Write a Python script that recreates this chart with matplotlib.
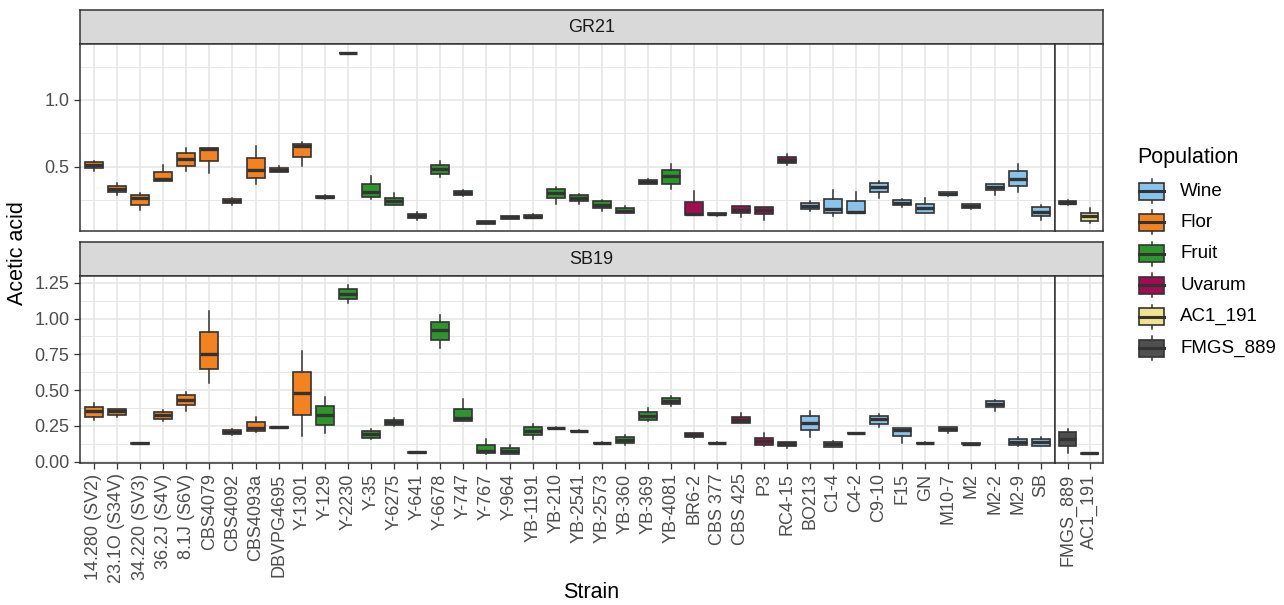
import matplotlib
matplotlib.use("Agg")
import matplotlib.pyplot as plt
from matplotlib.patches import Rectangle

plt.rcParams["font.family"] = ["Liberation Sans", "DejaVu Sans"]

# strains in plot order (last two are the control panel)
strains = [
    "14.280 (SV2)", "23.1O (S34V)", "34.220 (SV3)", "36.2J (S4V)", "8.1J (S6V)",
    "CBS4079", "CBS4092", "CBS4093a", "DBVPG4695", "Y-1301",
    "Y-129", "Y-2230", "Y-35", "Y-6275", "Y-641", "Y-6678", "Y-747", "Y-767",
    "Y-964", "YB-1191", "YB-210", "YB-2541", "YB-2573", "YB-360", "YB-369",
    "YB-4081", "BR6-2", "CBS 377", "CBS 425", "P3", "RC4-15", "BO213", "C1-4",
    "C4-2", "C9-10", "F15", "GN", "M10-7", "M2", "M2-2", "M2-9", "SB",
    "FMGS_889", "AC1_191",
]
population = (["Flor"] * 10 + ["Fruit"] * 16 + ["Uvarum"] * 5 + ["Wine"] * 11
              + ["FMGS_889", "AC1_191"])
n_main = 42

pop_order = ["Wine", "Flor", "Fruit", "Uvarum", "AC1_191", "FMGS_889"]
pop_colors = {
    "Wine": "#88C3EC",
    "Flor": "#F4821F",
    "Fruit": "#2B972B",
    "Uvarum": "#A10D50",
    "AC1_191": "#F1E38E",
    "FMGS_889": "#4F4F4F",
}

# GR21 box statistics
gr21_lo = [0.468, 0.291, 0.182, 0.396, 0.468, 0.458, 0.219, 0.371, 0.460, 0.510,
           0.263, 1.349, 0.261, 0.214, 0.107, 0.428, 0.286, 0.075, 0.110, 0.117,
           0.226, 0.224, 0.174, 0.154, 0.371, 0.336, 0.144, 0.137, 0.124, 0.107,
           0.513, 0.169, 0.134, 0.154, 0.269, 0.204, 0.154, 0.286, 0.189, 0.291,
           0.311, 0.107, 0.219, 0.082]
gr21_q1 = [0.493, 0.311, 0.219, 0.396, 0.510, 0.542, 0.231, 0.420, 0.465, 0.575,
           0.266, 1.349, 0.276, 0.219, 0.117, 0.450, 0.291, 0.077, 0.112, 0.117,
           0.266, 0.246, 0.192, 0.154, 0.371, 0.371, 0.144, 0.139, 0.154, 0.152,
           0.527, 0.184, 0.154, 0.159, 0.313, 0.214, 0.154, 0.291, 0.194, 0.328,
           0.356, 0.137, 0.221, 0.100]
gr21_med = [0.515, 0.336, 0.269, 0.413, 0.560, 0.634, 0.249, 0.480, 0.480, 0.657,
            0.276, 1.351, 0.311, 0.249, 0.134, 0.485, 0.306, 0.087, 0.124, 0.129,
            0.306, 0.266, 0.217, 0.174, 0.386, 0.430, 0.149, 0.147, 0.182, 0.182,
            0.555, 0.207, 0.189, 0.167, 0.353, 0.234, 0.194, 0.301, 0.207, 0.351,
            0.408, 0.167, 0.234, 0.137]
gr21_q3 = [0.535, 0.356, 0.291, 0.460, 0.605, 0.644, 0.261, 0.567, 0.495, 0.674,
           0.286, 1.353, 0.371, 0.271, 0.149, 0.517, 0.319, 0.097, 0.134, 0.139,
           0.338, 0.291, 0.244, 0.194, 0.401, 0.480, 0.236, 0.157, 0.206, 0.202,
           0.577, 0.229, 0.259, 0.249, 0.383, 0.254, 0.221, 0.311, 0.221, 0.371,
           0.470, 0.199, 0.249, 0.159]
gr21_hi = [0.547, 0.381, 0.306, 0.517, 0.642, 0.644, 0.269, 0.654, 0.505, 0.684,
           0.289, 1.353, 0.435, 0.304, 0.167, 0.547, 0.331, 0.100, 0.137, 0.147,
           0.353, 0.299, 0.256, 0.206, 0.410, 0.522, 0.321, 0.159, 0.211, 0.202,
           0.597, 0.244, 0.331, 0.316, 0.398, 0.261, 0.266, 0.316, 0.226, 0.376,
           0.522, 0.219, 0.254, 0.194]

# SB19 box statistics
sb19_lo = [0.291, 0.310, 0.122, 0.287, 0.356, 0.550, 0.187, 0.205, 0.235, 0.182,
           0.203, 1.106, 0.161, 0.247, 0.060, 0.794, 0.287, 0.054, 0.054, 0.156,
           0.231, 0.210, 0.127, 0.114, 0.287, 0.391, 0.168, 0.127, 0.273, 0.110,
           0.098, 0.175, 0.105, 0.196, 0.240, 0.131, 0.127, 0.198, 0.122, 0.354,
           0.108, 0.112, 0.061, 0.054]
sb19_q1 = [0.315, 0.329, 0.124, 0.298, 0.398, 0.648, 0.191, 0.214, 0.237, 0.324,
           0.256, 1.136, 0.166, 0.254, 0.062, 0.850, 0.287, 0.058, 0.054, 0.184,
           0.233, 0.212, 0.129, 0.131, 0.291, 0.403, 0.172, 0.129, 0.273, 0.117,
           0.110, 0.224, 0.105, 0.198, 0.266, 0.177, 0.129, 0.217, 0.124, 0.382,
           0.119, 0.112, 0.107, 0.056]
sb19_med = [0.356, 0.356, 0.128, 0.328, 0.433, 0.752, 0.207, 0.235, 0.240, 0.480,
            0.326, 1.171, 0.193, 0.275, 0.065, 0.920, 0.303, 0.077, 0.077, 0.217,
            0.235, 0.214, 0.131, 0.154, 0.319, 0.424, 0.187, 0.131, 0.294, 0.147,
            0.124, 0.270, 0.121, 0.200, 0.296, 0.224, 0.131, 0.231, 0.126, 0.403,
            0.140, 0.135, 0.159, 0.058]
sb19_q3 = [0.380, 0.368, 0.132, 0.350, 0.468, 0.903, 0.224, 0.275, 0.243, 0.629,
           0.391, 1.206, 0.217, 0.294, 0.068, 0.973, 0.368, 0.117, 0.098, 0.240,
           0.237, 0.216, 0.133, 0.175, 0.347, 0.443, 0.198, 0.133, 0.314, 0.168,
           0.140, 0.317, 0.135, 0.202, 0.317, 0.235, 0.133, 0.240, 0.128, 0.424,
           0.161, 0.156, 0.205, 0.060]
sb19_hi = [0.408, 0.368, 0.134, 0.361, 0.484, 1.050, 0.231, 0.314, 0.245, 0.775,
           0.450, 1.234, 0.231, 0.303, 0.070, 1.027, 0.436, 0.161, 0.119, 0.263,
           0.239, 0.218, 0.135, 0.187, 0.375, 0.459, 0.203, 0.135, 0.338, 0.198,
           0.140, 0.356, 0.147, 0.204, 0.333, 0.235, 0.135, 0.240, 0.130, 0.431,
           0.170, 0.175, 0.228, 0.062]

gr21_ticks = [0.5, 1.0]
gr21_ticklabels = ["0.5", "1.0"]
sb19_ticks = [0.0, 0.25, 0.5, 0.75, 1.0, 1.25]
sb19_ticklabels = ["0.00", "0.25", "0.50", "0.75", "1.00", "1.25"]

W, H = 1284, 605
fig = plt.figure(figsize=(W / 100, H / 100), dpi=100)

GRID = "#E6E6E6"
BORDER = "#333333"
TICKTXT = "#4D4D4D"


def rect(x0, y0, x1, y1):
    """pixel box (top-left origin) -> figure fraction"""
    return [x0 / W, 1 - y1 / H, (x1 - x0) / W, (y1 - y0) / H]


def make_stats(lo, q1, med, q3, hi, idx):
    return [dict(whislo=lo[i], q1=q1[i], med=med[i], q3=q3[i], whishi=hi[i],
                 fliers=[]) for i in idx]


def draw_panel(ax, stats, idx, ylim, ticks, minor, show_y):
    ax.set_facecolor("white")
    pos = list(range(len(idx)))
    bp = ax.bxp(stats, positions=pos, widths=0.78, patch_artist=True,
                showcaps=False, showfliers=False,
                boxprops=dict(edgecolor=BORDER, linewidth=1.2),
                whiskerprops=dict(color=BORDER, linewidth=1.1),
                medianprops=dict(color=BORDER, linewidth=2.4, solid_capstyle="butt"))
    for box, i in zip(bp["boxes"], idx):
        box.set_facecolor(pop_colors[population[i]])
        box.set_zorder(3)
    for ln in bp["whiskers"] + bp["medians"]:
        ln.set_zorder(3.5)
    ax.set_xlim(-0.6, len(idx) - 0.4)
    ax.set_ylim(*ylim)
    ax.set_yticks(ticks)
    ax.set_yticks(minor, minor=True)
    ax.set_xticks(pos)
    ax.grid(True, which="major", color=GRID, linewidth=1.2, zorder=0)
    ax.grid(True, which="minor", axis="y", color=GRID, linewidth=0.7, zorder=0)
    ax.set_axisbelow(True)
    for s in ax.spines.values():
        s.set_color(BORDER)
        s.set_linewidth(1.1)
        s.set_zorder(5)
    ax.tick_params(which="minor", length=0)
    ax.tick_params(axis="both", which="major", color=BORDER, length=4,
                   width=0.9, labelsize=13, labelcolor=TICKTXT)
    if not show_y:
        ax.tick_params(axis="y", left=False, labelleft=False)


def draw_strip(y0, y1, label):
    sax = fig.add_axes(rect(80, y0, 1103, y1))
    sax.set_facecolor("#D9D9D9")
    sax.set_xticks([])
    sax.set_yticks([])
    for s in sax.spines.values():
        s.set_color(BORDER)
        s.set_linewidth(1.1)
    sax.text(0.5, 0.5, label, transform=sax.transAxes, ha="center",
             va="center", fontsize=13, color="#1A1A1A")


main_idx = list(range(n_main))
ctrl_idx = list(range(n_main, len(strains)))
x_split = 1054.6

panels = [
    ("GR21", 10, 44, 231, (0.022, 1.418), gr21_ticks, gr21_ticklabels,
     [0.25, 0.75, 1.25], (gr21_lo, gr21_q1, gr21_med, gr21_q3, gr21_hi)),
    ("SB19", 242, 276, 463, (-0.009, 1.297), sb19_ticks, sb19_ticklabels,
     [0.125, 0.375, 0.625, 0.875, 1.125], (sb19_lo, sb19_q1, sb19_med, sb19_q3, sb19_hi)),
]

for k, (name, ys, y0, y1, ylim, ticks, tlabels, minor, data) in enumerate(panels):
    draw_strip(ys, y0, name)
    ax_m = fig.add_axes(rect(80, y0, x_split, y1))
    ax_c = fig.add_axes(rect(x_split, y0, 1103, y1))
    draw_panel(ax_m, make_stats(*data, main_idx), main_idx, ylim, ticks, minor, True)
    draw_panel(ax_c, make_stats(*data, ctrl_idx), ctrl_idx, ylim, ticks, minor, False)
    ax_m.set_yticklabels(tlabels)
    if k == 0:
        for a in (ax_m, ax_c):
            a.tick_params(axis="x", bottom=False, labelbottom=False)
    else:
        ax_m.set_xticklabels([strains[i] for i in main_idx], rotation=90)
        ax_c.set_xticklabels([strains[i] for i in ctrl_idx], rotation=90)

fig.text(591 / W, 1 - 593 / H, "Strain", ha="center", va="center", fontsize=15.5)
fig.text(18 / W, 1 - 253 / H, "Acetic acid", ha="center", va="center",
         rotation=90, fontsize=15.5)

# legend drawn by hand so the keys look like ggplot box glyphs
lax = fig.add_axes([0, 0, 1, 1])
lax.set_xlim(0, W)
lax.set_ylim(H, 0)
lax.axis("off")
lax.text(1137, 157, "Population", ha="left", va="center", fontsize=15.5)
for j, pop in enumerate(pop_order):
    cy = 191 + j * 31.4
    lax.plot([1151.5, 1151.5], [cy - 12, cy + 12], color=BORDER, lw=1.1)
    lax.add_patch(Rectangle((1139, cy - 8.5), 25, 17, facecolor=pop_colors[pop],
                            edgecolor=BORDER, lw=1.2, zorder=3))
    lax.plot([1139, 1164], [cy, cy], color=BORDER, lw=2.2, zorder=4)
    lax.text(1180, cy, pop, ha="left", va="center", fontsize=13.5)

fig.savefig("out.png", dpi=100)
